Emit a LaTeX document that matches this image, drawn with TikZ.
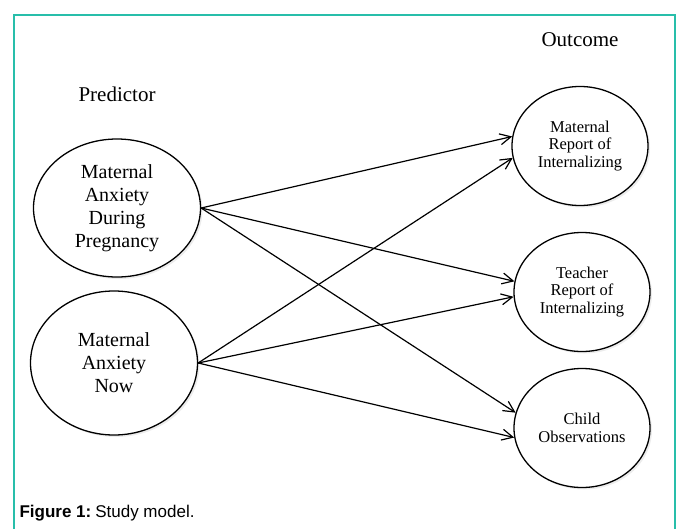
\documentclass[tikz,border=0pt]{standalone}
\usepackage{fontspec}
\setmainfont{Liberation Serif}
\newfontfamily\capfont{Liberation Sans}
\usetikzlibrary{shapes.geometric,arrows.meta,shadows}
\definecolor{framegreen}{RGB}{40,190,170}
\begin{document}
\begin{tikzpicture}[x=1pt,y=-1pt,
    >={Straight Barb[length=11pt,width=11pt]},
    var/.style={ellipse,draw,line width=1.3pt,fill=white,inner sep=0pt,align=center,
      drop shadow={opacity=0.15,shadow xshift=2pt,shadow yshift=-2pt}},
    pred/.style={var,minimum width=167pt,font=\fontsize{20}{23}\selectfont},
    outc/.style={var,minimum width=136pt,minimum height=119pt,font=\fontsize{16.5}{17.5}\selectfont},
    path/.style={->,line width=1.2pt}]
  \useasboundingbox (0,0) rectangle (678,528);
  \draw[framegreen,line width=1.5pt] (14,530) -- (14,15) -- (675,15) -- (675,530);

  \node[font=\fontsize{21}{24}\selectfont] (outlab) at (580,40) {Outcome};
  \node[font=\fontsize{21}{24}\selectfont] (predlab) at (117,94) {Predictor};

  % predictors
  \node[pred,minimum height=138pt] (preg) at (117,208) {Maternal\\Anxiety\\During\\Pregnancy};
  \node[pred,minimum height=144pt] (now) at (114,363) {Maternal\\Anxiety\\Now};

  % outcomes
  \node[outc] (mrep) at (580,146) {Maternal\\Report of\\Internalizing};
  \node[outc] (trep) at (582,292) {Teacher\\Report of\\Internalizing};
  \node[outc] (obs) at (582,428) {Child\\Observations};

  \draw[path] (preg.east) -- (mrep.172);
  \draw[path] (preg.east) -- (trep.171);
  \draw[path] (preg.east) -- (obs.167);
  \draw[path] (now.east) -- (mrep.190);
  \draw[path] (now.east) -- (trep.184);
  \draw[path] (now.east) -- (obs.188);

  \node[anchor=west,font=\capfont\fontsize{17}{20}\selectfont] (cap) at (16,513)
    {\textbf{Figure 1:}\hspace{4pt}Study model.};
\end{tikzpicture}
\end{document}
